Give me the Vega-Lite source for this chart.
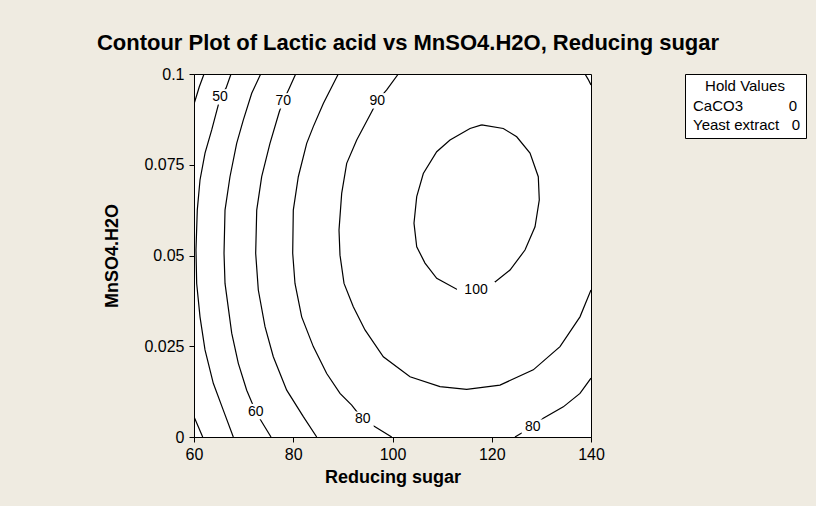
{
  "$schema": "https://vega.github.io/schema/vega-lite/v6.json",
  "width": 397,
  "height": 363,
  "autosize": "none",
  "padding": {"left": 194, "top": 74, "right": 225, "bottom": 69},
  "background": "#EFEBE1",
  "title": {
    "text": "Contour Plot of Lactic acid vs MnSO4.H2O, Reducing sugar",
    "font": "Liberation Sans",
    "fontSize": 22,
    "fontWeight": "bold",
    "color": "black",
    "anchor": "middle",
    "frame": "group",
    "dx": 15.5,
    "offset": 11
  },
  "datasets": {
    "lines": [
      {"seg": "A1", "level": 40, "i": 1, "x": 62.02, "y": 0.1},
      {"seg": "A1", "level": 40, "i": 2, "x": 61.07, "y": 0.0965},
      {"seg": "A1", "level": 40, "i": 3, "x": 60, "y": 0.0917},
      {"seg": "A2", "level": 40, "i": 1, "x": 60, "y": 0.0056},
      {"seg": "A2", "level": 40, "i": 2, "x": 60.87, "y": 0.0028},
      {"seg": "A2", "level": 40, "i": 3, "x": 61.75, "y": 0},
      {"seg": "B", "level": 50, "i": 1, "x": 67.46, "y": 0.1},
      {"seg": "B", "level": 50, "i": 2, "x": 66.45, "y": 0.0961},
      {"seg": "B", "level": 50, "i": 3, "x": 65.24, "y": 0.0937},
      {"seg": "B", "level": 50, "i": 4, "x": 64.9, "y": 0.0915},
      {"seg": "B", "level": 50, "i": 5, "x": 63.57, "y": 0.0846},
      {"seg": "B", "level": 50, "i": 6, "x": 62.22, "y": 0.0782},
      {"seg": "B", "level": 50, "i": 7, "x": 61.21, "y": 0.0708},
      {"seg": "B", "level": 50, "i": 8, "x": 60.66, "y": 0.0625},
      {"seg": "B", "level": 50, "i": 9, "x": 60.4, "y": 0.0515},
      {"seg": "B", "level": 50, "i": 10, "x": 60.54, "y": 0.0423},
      {"seg": "B", "level": 50, "i": 11, "x": 61.21, "y": 0.0331},
      {"seg": "B", "level": 50, "i": 12, "x": 62.22, "y": 0.024},
      {"seg": "B", "level": 50, "i": 13, "x": 63.89, "y": 0.0148},
      {"seg": "B", "level": 50, "i": 14, "x": 65.9, "y": 0.0074},
      {"seg": "B", "level": 50, "i": 15, "x": 67.92, "y": 0},
      {"seg": "C", "level": 60, "i": 1, "x": 73.44, "y": 0.1},
      {"seg": "C", "level": 60, "i": 2, "x": 71.63, "y": 0.0947},
      {"seg": "C", "level": 60, "i": 3, "x": 69.93, "y": 0.0873},
      {"seg": "C", "level": 60, "i": 4, "x": 68.6, "y": 0.0809},
      {"seg": "C", "level": 60, "i": 5, "x": 67.25, "y": 0.0717},
      {"seg": "C", "level": 60, "i": 6, "x": 66.25, "y": 0.0625},
      {"seg": "C", "level": 60, "i": 7, "x": 66.05, "y": 0.0506},
      {"seg": "C", "level": 60, "i": 8, "x": 66.25, "y": 0.0423},
      {"seg": "C", "level": 60, "i": 9, "x": 67.6, "y": 0.0286},
      {"seg": "C", "level": 60, "i": 10, "x": 68.93, "y": 0.0203},
      {"seg": "C", "level": 60, "i": 11, "x": 70.62, "y": 0.0129},
      {"seg": "C", "level": 60, "i": 12, "x": 72.43, "y": 0.007},
      {"seg": "C", "level": 60, "i": 13, "x": 73.64, "y": 0.0042},
      {"seg": "C", "level": 60, "i": 14, "x": 75.52, "y": 0},
      {"seg": "D", "level": 70, "i": 1, "x": 80.49, "y": 0.1},
      {"seg": "D", "level": 70, "i": 2, "x": 79.2, "y": 0.0961},
      {"seg": "D", "level": 70, "i": 3, "x": 78.0, "y": 0.0926},
      {"seg": "D", "level": 70, "i": 4, "x": 77.19, "y": 0.0896},
      {"seg": "D", "level": 70, "i": 5, "x": 75.31, "y": 0.0809},
      {"seg": "D", "level": 70, "i": 6, "x": 73.64, "y": 0.0717},
      {"seg": "D", "level": 70, "i": 7, "x": 72.64, "y": 0.0625},
      {"seg": "D", "level": 70, "i": 8, "x": 72.43, "y": 0.0506},
      {"seg": "D", "level": 70, "i": 9, "x": 72.96, "y": 0.0405},
      {"seg": "D", "level": 70, "i": 10, "x": 74.31, "y": 0.0304},
      {"seg": "D", "level": 70, "i": 11, "x": 75.98, "y": 0.0221},
      {"seg": "D", "level": 70, "i": 12, "x": 78.68, "y": 0.0129},
      {"seg": "D", "level": 70, "i": 13, "x": 82.03, "y": 0.0056},
      {"seg": "D", "level": 70, "i": 14, "x": 84.73, "y": 0},
      {"seg": "E", "level": 80, "i": 1, "x": 89.08, "y": 0.1},
      {"seg": "E", "level": 80, "i": 2, "x": 86.06, "y": 0.0919},
      {"seg": "E", "level": 80, "i": 3, "x": 84.04, "y": 0.0855},
      {"seg": "E", "level": 80, "i": 4, "x": 82.71, "y": 0.0809},
      {"seg": "E", "level": 80, "i": 5, "x": 81.02, "y": 0.0717},
      {"seg": "E", "level": 80, "i": 6, "x": 80.01, "y": 0.0625},
      {"seg": "E", "level": 80, "i": 7, "x": 79.89, "y": 0.0506},
      {"seg": "E", "level": 80, "i": 8, "x": 80.35, "y": 0.0423},
      {"seg": "E", "level": 80, "i": 9, "x": 81.7, "y": 0.0331},
      {"seg": "E", "level": 80, "i": 10, "x": 84.04, "y": 0.0249},
      {"seg": "E", "level": 80, "i": 11, "x": 86.74, "y": 0.0175},
      {"seg": "E", "level": 80, "i": 12, "x": 89.42, "y": 0.012},
      {"seg": "E", "level": 80, "i": 13, "x": 91.78, "y": 0.0088},
      {"seg": "E", "level": 80, "i": 14, "x": 94.0, "y": 0.0049},
      {"seg": "E", "level": 80, "i": 15, "x": 96.47, "y": 0.0028},
      {"seg": "E", "level": 80, "i": 16, "x": 99.84, "y": 0},
      {"seg": "F", "level": 90, "i": 1, "x": 101.17, "y": 0.1},
      {"seg": "F", "level": 90, "i": 2, "x": 98.83, "y": 0.0956},
      {"seg": "F", "level": 90, "i": 3, "x": 96.94, "y": 0.0926},
      {"seg": "F", "level": 90, "i": 4, "x": 95.81, "y": 0.0896},
      {"seg": "F", "level": 90, "i": 5, "x": 92.79, "y": 0.0818},
      {"seg": "F", "level": 90, "i": 6, "x": 90.77, "y": 0.0754},
      {"seg": "F", "level": 90, "i": 7, "x": 89.76, "y": 0.0671},
      {"seg": "F", "level": 90, "i": 8, "x": 89.22, "y": 0.057},
      {"seg": "F", "level": 90, "i": 9, "x": 89.42, "y": 0.0501},
      {"seg": "F", "level": 90, "i": 10, "x": 90.23, "y": 0.0423},
      {"seg": "F", "level": 90, "i": 11, "x": 92.1, "y": 0.0359},
      {"seg": "F", "level": 90, "i": 12, "x": 94.46, "y": 0.0295},
      {"seg": "F", "level": 90, "i": 13, "x": 98.15, "y": 0.0221},
      {"seg": "F", "level": 90, "i": 14, "x": 103.53, "y": 0.0166},
      {"seg": "F", "level": 90, "i": 15, "x": 109.57, "y": 0.0139},
      {"seg": "F", "level": 90, "i": 16, "x": 114.95, "y": 0.0131},
      {"seg": "F", "level": 90, "i": 17, "x": 121.66, "y": 0.0143},
      {"seg": "F", "level": 90, "i": 18, "x": 128.37, "y": 0.0185},
      {"seg": "F", "level": 90, "i": 19, "x": 133.75, "y": 0.0249},
      {"seg": "F", "level": 90, "i": 20, "x": 137.78, "y": 0.0331},
      {"seg": "F", "level": 90, "i": 21, "x": 140, "y": 0.0405},
      {"seg": "F2", "level": 90, "i": 1, "x": 138.79, "y": 0.1},
      {"seg": "F2", "level": 90, "i": 2, "x": 139.4, "y": 0.0986},
      {"seg": "F2", "level": 90, "i": 3, "x": 140, "y": 0.097},
      {"seg": "G", "level": 100, "i": 1, "x": 117.97, "y": 0.086},
      {"seg": "G", "level": 100, "i": 2, "x": 115.62, "y": 0.085},
      {"seg": "G", "level": 100, "i": 3, "x": 111.59, "y": 0.0818},
      {"seg": "G", "level": 100, "i": 4, "x": 108.91, "y": 0.0786},
      {"seg": "G", "level": 100, "i": 5, "x": 106.21, "y": 0.0726},
      {"seg": "G", "level": 100, "i": 6, "x": 104.88, "y": 0.0662},
      {"seg": "G", "level": 100, "i": 7, "x": 104.33, "y": 0.0589},
      {"seg": "G", "level": 100, "i": 8, "x": 104.88, "y": 0.0524},
      {"seg": "G", "level": 100, "i": 9, "x": 106.55, "y": 0.0479},
      {"seg": "G", "level": 100, "i": 10, "x": 108.91, "y": 0.0437},
      {"seg": "G", "level": 100, "i": 11, "x": 112.94, "y": 0.0407},
      {"seg": "G", "level": 100, "i": 12, "x": 116.83, "y": 0.0405},
      {"seg": "G", "level": 100, "i": 13, "x": 120.66, "y": 0.0427},
      {"seg": "G", "level": 100, "i": 14, "x": 123.68, "y": 0.046},
      {"seg": "G", "level": 100, "i": 15, "x": 126.7, "y": 0.0515},
      {"seg": "G", "level": 100, "i": 16, "x": 128.72, "y": 0.0579},
      {"seg": "G", "level": 100, "i": 17, "x": 129.58, "y": 0.0653},
      {"seg": "G", "level": 100, "i": 18, "x": 129.38, "y": 0.0717},
      {"seg": "G", "level": 100, "i": 19, "x": 127.71, "y": 0.0782},
      {"seg": "G", "level": 100, "i": 20, "x": 125.03, "y": 0.0827},
      {"seg": "G", "level": 100, "i": 21, "x": 122.33, "y": 0.085},
      {"seg": "G", "level": 100, "i": 22, "x": 117.97, "y": 0.086},
      {"seg": "H", "level": 80, "i": 1, "x": 140, "y": 0.0162},
      {"seg": "H", "level": 80, "i": 2, "x": 137.78, "y": 0.012},
      {"seg": "H", "level": 80, "i": 3, "x": 134.42, "y": 0.0083},
      {"seg": "H", "level": 80, "i": 4, "x": 130.39, "y": 0.0052},
      {"seg": "H", "level": 80, "i": 5, "x": 128.25, "y": 0.0027},
      {"seg": "H", "level": 80, "i": 6, "x": 125.69, "y": 0.0008},
      {"seg": "H", "level": 80, "i": 7, "x": 124.68, "y": 0}
    ],
    "labels": [
      {"level": 50, "x": 65.24, "y": 0.0937},
      {"level": 70, "x": 78.0, "y": 0.0926},
      {"level": 90, "x": 96.94, "y": 0.0926},
      {"level": 60, "x": 72.43, "y": 0.007},
      {"level": 80, "x": 94.0, "y": 0.0049},
      {"level": 100, "x": 116.83, "y": 0.0405},
      {"level": 80, "x": 128.25, "y": 0.0027}
    ],
    "hold": [
      {"factor": "CaCO3", "value": 0},
      {"factor": "Yeast extract", "value": 0}
    ]
  },
  "encoding": {
    "x": {
      "field": "x",
      "type": "quantitative",
      "scale": {"domain": [60, 140], "nice": false, "zero": false},
      "axis": {
        "title": "Reducing sugar",
        "values": [60, 80, 100, 120, 140],
        "format": ".0f",
        "grid": false,
        "labelFlush": false,
        "labelOverlap": false,
        "domainColor": "black",
        "tickColor": "black",
        "tickSize": 5,
        "labelFont": "Liberation Sans",
        "labelFontSize": 16,
        "labelColor": "black",
        "labelPadding": 4,
        "titleFont": "Liberation Sans",
        "titleFontSize": 18,
        "titleFontWeight": "bold",
        "titleColor": "black",
        "titlePadding": 6
      }
    },
    "y": {
      "field": "y",
      "type": "quantitative",
      "scale": {"domain": [0, 0.1], "nice": false, "zero": false},
      "axis": {
        "title": "MnSO4.H2O",
        "values": [0, 0.025, 0.05, 0.075, 0.1],
        "format": ".3~f",
        "grid": false,
        "labelFlush": false,
        "labelOverlap": false,
        "domainColor": "black",
        "tickColor": "black",
        "tickSize": 5,
        "labelFont": "Liberation Sans",
        "labelFontSize": 16,
        "labelColor": "black",
        "labelPadding": 5,
        "titleFont": "Liberation Sans",
        "titleFontSize": 18,
        "titleFontWeight": "bold",
        "titleColor": "black",
        "titlePadding": 22
      }
    }
  },
  "layer": [
    {
      "data": {"name": "lines"},
      "mark": {"type": "line", "color": "black", "strokeWidth": 1.2, "clip": true},
      "encoding": {
        "detail": {"field": "seg", "type": "nominal"},
        "order": {"field": "i", "type": "quantitative"}
      }
    },
    {
      "data": {"name": "labels"},
      "mark": {"type": "point", "filled": true, "color": "white", "opacity": 1, "strokeWidth": 0},
      "encoding": {
        "shape": {"condition": {"test": "datum.level >= 100", "value": "M-1,-0.42H1V0.42H-1Z"}, "value": "M-1,-0.7H1V0.7H-1Z"},
        "size": {"condition": {"test": "datum.level >= 100", "value": 1444}, "value": 484}
      }
    },
    {
      "data": {"name": "labels"},
      "mark": {"type": "text", "font": "Liberation Sans", "fontSize": 14, "color": "black", "baseline": "middle", "align": "center"},
      "encoding": {
        "text": {"field": "level", "type": "quantitative"}
      }
    },
    {
      "data": {"name": "hold"},
      "mark": {"type": "point", "opacity": 0},
      "encoding": {
        "color": {
          "field": "factor",
          "type": "nominal",
          "scale": {"domain": ["CaCO3", "Yeast extract"], "range": ["black", "black"]},
          "legend": {
            "title": "Hold Values",
            "orient": "right",
            "offset": 94,
            "padding": 5,
            "fillColor": "white",
            "strokeColor": "black",
            "titleAnchor": "middle",
            "titleFont": "Liberation Sans",
            "titleFontSize": 15,
            "titleFontWeight": "normal",
            "titleColor": "black",
            "titlePadding": 4,
            "labelFont": "Liberation Sans",
            "labelFontSize": 15,
            "labelColor": "black",
            "labelOffset": -12,
            "labelLimit": 400,
            "symbolSize": 1,
            "symbolOpacity": 0,
            "symbolStrokeWidth": 0,
            "rowPadding": 3,
            "labelExpr": "datum.label == 'CaCO3' ? 'CaCO3\u00a0\u00a0\u00a0\u00a0\u00a0\u00a0\u00a0\u00a0\u00a0\u00a0\u00a00\u00a0' : 'Yeast extract\u00a0\u00a0\u00a00\u00a0'"
          }
        }
      }
    }
  ],
  "config": {
    "view": {"stroke": "black", "strokeWidth": 1, "fill": "white"}
  }
}
